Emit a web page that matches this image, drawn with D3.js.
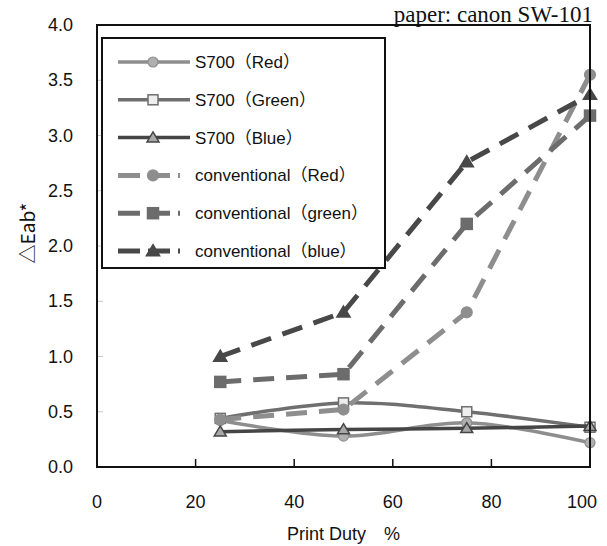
<!DOCTYPE html>
<meta charset="utf-8">
<script src="https://d3js.org/d3.v7.min.js"></script>
<style>
  body { margin: 0; background: white; }
  svg { display: block; }
  .tick-label { font-family: "Liberation Sans", Arial, sans-serif; font-size: 18px; fill: #111; }
  .legend-text { font-family: "Liberation Sans", "Noto Sans CJK JP", sans-serif; font-size: 17px; fill: #111; }
</style>
<div id="chart"></div>
<script>

var duty = [25, 50, 75, 100];

var s700Red = [0.42, 0.28, 0.40, 0.22];
var s700Green = [0.44, 0.58, 0.50, 0.36];
var s700Blue = [0.32, 0.34, 0.35, 0.37];
var convRed = [0.43, 0.52, 1.40, 3.55];
var convGreen = [0.77, 0.84, 2.20, 3.18];
var convBlue = [1.00, 1.40, 2.76, 3.37];

var seriesNames = ["S700（Red）", "S700（Green）", "S700（Blue）",
                   "conventional（Red）", "conventional（green）", "conventional（blue）"];

var xTicks = [0, 20, 40, 60, 80, 100];
var yTicks = [0, 0.5, 1, 1.5, 2, 2.5, 3, 3.5, 4];

var width = 607, height = 546;
var margin = {top: 25, right: 17, bottom: 79, left: 97};

var svg = d3.select("#chart").append("svg")
  .attr("width", width)
  .attr("height", height);

var x = d3.scaleLinear().domain([0, 100]).range([margin.left, width - margin.right]);
var y = d3.scaleLinear().domain([0, 4]).range([height - margin.bottom, margin.top]);

// S700 lines are smoothed, conventional ones are straight segments
var series = [
  {name: seriesNames[0], values: s700Red,   color: "#8e8e8e", width: 3.5, dash: null, smooth: true, marker: "circle",   fill: "#b0b0b0", mstroke: "#8e8e8e"},
  {name: seriesNames[1], values: s700Green, color: "#6f6f6f", width: 3.5, dash: null, smooth: true, marker: "square",   fill: "#eeeeee", mstroke: "#6f6f6f"},
  {name: seriesNames[2], values: s700Blue,  color: "#454545", width: 3.5, dash: null, smooth: true, marker: "triangle", fill: "#a8a8a8", mstroke: "#454545"},
  {name: seriesNames[3], values: convRed,   color: "#8e8e8e", width: 5, dash: "21,12", smooth: false, marker: "circle",   fill: "#8e8e8e", mstroke: "#8e8e8e"},
  {name: seriesNames[4], values: convGreen, color: "#6c6c6c", width: 5, dash: "21,12", smooth: false, marker: "square",   fill: "#6c6c6c", mstroke: "#6c6c6c"},
  {name: seriesNames[5], values: convBlue,  color: "#484848", width: 5, dash: "21,12", smooth: false, marker: "triangle", fill: "#484848", mstroke: "#484848"}
];

// faint grid stubs on left
svg.selectAll(".ystub")
  .data(yTicks.slice(1, -1))
  .enter().append("line")
  .attr("x1", x(0)).attr("x2", x(0) + 6)
  .attr("y1", function(d) { return y(d); })
  .attr("y2", function(d) { return y(d); })
  .attr("stroke", "#c8c8c8").attr("stroke-width", 1);

// x ticks pointing inward
svg.selectAll(".xtick")
  .data(xTicks.slice(1, -1))
  .enter().append("line")
  .attr("x1", function(d) { return x(d); })
  .attr("x2", function(d) { return x(d); })
  .attr("y1", y(0)).attr("y2", y(0) - 8)
  .attr("stroke", "#111").attr("stroke-width", 1.5);

// tick labels
svg.selectAll(".ylab")
  .data(yTicks)
  .enter().append("text")
  .attr("class", "tick-label")
  .attr("x", 73)
  .attr("y", function(d) { return y(d) + 6; })
  .attr("text-anchor", "end")
  .text(function(d) { return d3.format(".1f")(d); });

svg.selectAll(".xlab")
  .data(xTicks)
  .enter().append("text")
  .attr("class", "tick-label")
  .attr("x", function(d) { return d == 100 ? x(d) - 8 : x(d); })
  .attr("y", 508)
  .attr("text-anchor", "middle")
  .text(function(d) { return d; });

svg.append("text")
  .attr("class", "tick-label")
  .attr("x", (x(0) + x(100)) / 2)
  .attr("y", 540)
  .attr("text-anchor", "middle")
  .style("font-family", "'Liberation Sans', 'Noto Sans CJK JP', sans-serif")
  .text("Print Duty　%");

svg.append("text")
  .attr("class", "tick-label")
  .attr("transform", "translate(35," + 233 + ") rotate(-90)")
  .attr("text-anchor", "middle")
  .style("font-family", "'Noto Sans CJK JP', sans-serif")
  .style("font-size", "19px")
  .text("△Eab*");

svg.append("text")
  .attr("x", 593)
  .attr("y", 22)
  .attr("text-anchor", "end")
  .style("font-family", "'Liberation Serif', 'Times New Roman', serif")
  .style("font-size", "23px")
  .style("fill", "#111")
  .text("paper: canon SW-101");

function drawMarker(g, type, cx, cy, fill, stroke, size) {
  if (type == "circle") {
    g.append("circle").attr("cx", cx).attr("cy", cy).attr("r", size / 2)
      .attr("fill", fill).attr("stroke", stroke).attr("stroke-width", 1.2);
  } else if (type == "square") {
    g.append("rect").attr("x", cx - size / 2).attr("y", cy - size / 2)
      .attr("width", size).attr("height", size)
      .attr("fill", fill).attr("stroke", stroke).attr("stroke-width", 1.5);
  } else {
    var h = size * 0.95;
    g.append("path")
      .attr("d", "M" + cx + "," + (cy - h * 0.6) + "L" + (cx + size * 0.6) + "," + (cy + h * 0.45) +
                 "L" + (cx - size * 0.6) + "," + (cy + h * 0.45) + "Z")
      .attr("fill", fill).attr("stroke", stroke).attr("stroke-width", 1.5);
  }
}

var smoothLine = d3.line()
  .x(function(d, i) { return x(duty[i]); })
  .y(function(d) { return y(d); })
  .curve(d3.curveCardinal.tension(0));

var straightLine = d3.line()
  .x(function(d, i) { return x(duty[i]); })
  .y(function(d) { return y(d); });

series.forEach(function(s) {
  var g = svg.append("g");
  g.append("path")
    .attr("d", s.smooth ? smoothLine(s.values) : straightLine(s.values))
    .attr("fill", "none")
    .attr("stroke", s.color)
    .attr("stroke-width", s.width)
    .attr("stroke-dasharray", s.dash);
  s.values.forEach(function(v, i) {
    drawMarker(g, s.marker, x(duty[i]), y(v), s.fill, s.mstroke, s.smooth ? 10 : 11);
  });
});

// plot frame
svg.append("rect")
  .attr("x", x(0)).attr("y", y(4))
  .attr("width", x(100) - x(0)).attr("height", y(0) - y(4))
  .attr("fill", "none").attr("stroke", "#111").attr("stroke-width", 2);

// legend
var legend = svg.append("g");
legend.append("rect")
  .attr("x", 102).attr("y", 38).attr("width", 283).attr("height", 230)
  .attr("fill", "white").attr("stroke", "#111").attr("stroke-width", 2);

series.forEach(function(s, i) {
  var ly = 62 + i * 37.8;
  var x2 = s.dash ? 180 : 190;
  legend.append("line")
    .attr("x1", 118).attr("x2", x2).attr("y1", ly).attr("y2", ly)
    .attr("stroke", s.color).attr("stroke-width", s.width)
    .attr("stroke-dasharray", s.dash ? "22,8" : null);
  drawMarker(legend, s.marker, 153, ly, s.fill, s.mstroke, s.smooth ? 10 : 11);
  legend.append("text")
    .attr("class", "legend-text")
    .attr("x", 195).attr("y", ly + 6)
    .text(s.name);
});

</script>
